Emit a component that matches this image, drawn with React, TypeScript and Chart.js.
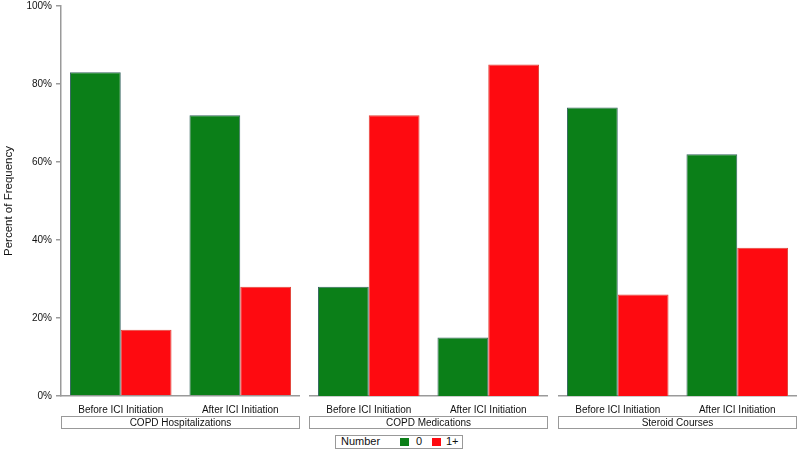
import React, { useEffect, useRef } from 'react';
import { Chart, registerables } from 'chart.js';
Chart.register(...registerables);

const periods = ['Before ICI Initiation', 'After ICI Initiation'];
const panelNames = ['COPD Hospitalizations', 'COPD Medications', 'Steroid Courses'];
const zeroValues = [
  [83, 72],
  [28, 15],
  [74, 62],
];
const onePlusValues = [
  [17, 28],
  [72, 85],
  [26, 38],
];
const seriesNames = ['0', '1+'];
const yTickValues = [0, 20, 40, 60, 80, 100];

const FONT = '"Liberation Sans", Arial, sans-serif';
const GREEN = '#0b7f18';
const RED = '#fe0a10';
const AXIS = '#9a9a9a';

const panelLefts = [0, 309, 558];
const panelWidths = [300, 239, 239];
const plotLeft0 = 61;
const CANVAS_TOP = -4;
const CANVAS_H = 424;

function Panel({ index }: { index: number }) {
  const ref = useRef<HTMLCanvasElement | null>(null);
  useEffect(() => {
    if (!ref.current) return;
    const showY = index === 0;
    const chart = new Chart(ref.current, {
      type: 'bar',
      data: {
        labels: periods,
        datasets: [
          {
            label: seriesNames[0],
            data: zeroValues[index],
            backgroundColor: GREEN,
            borderColor: '#35655f',
            borderWidth: 1,
            barPercentage: 1,
            categoryPercentage: 0.85,
          },
          {
            label: seriesNames[1],
            data: onePlusValues[index],
            backgroundColor: RED,
            borderColor: '#e0453a',
            borderWidth: 1,
            barPercentage: 1,
            categoryPercentage: 0.85,
          },
        ],
      },
      options: {
        animation: false,
        responsive: false,
        maintainAspectRatio: false,
        layout: { padding: { top: showY ? 1 : 10, left: 0, right: 0, bottom: 0 } },
        plugins: { legend: { display: false }, tooltip: { enabled: false } },
        scales: {
          x: {
            type: 'category',
            ticks: {
              font: { size: 10, family: FONT },
              color: '#111',
              padding: 8,
              maxRotation: 0,
              autoSkip: false,
            },
            grid: { display: true, drawOnChartArea: false, drawTicks: false, color: AXIS },
            border: { display: true, color: AXIS, width: 1.5 },
            afterFit: (s: any) => {
              s.height = 24;
            },
          },
          y: {
            display: showY,
            min: 0,
            max: 100,
            afterBuildTicks: (s: any) => {
              s.ticks = yTickValues.map((v) => ({ value: v }));
            },
            ticks: {
              callback: (v: any) => v + '%',
              font: { size: 10, family: FONT },
              color: '#111',
              padding: 4,
            },
            grid: {
              display: true,
              drawOnChartArea: false,
              drawTicks: true,
              tickLength: 5,
              color: AXIS,
              lineWidth: 1.5,
            },
            border: { display: true, color: AXIS, width: 1.5 },
            title: {
              display: true,
              text: 'Percent of Frequency',
              font: { size: 11.5, family: FONT },
              color: '#111',
              padding: { top: 2, bottom: 0 },
            },
            afterFit: (s: any) => {
              s.width = showY ? plotLeft0 : 0;
            },
          },
        },
      },
    });
    return () => chart.destroy();
  }, [index]);
  return (
    <div style={{ position: 'absolute', left: panelLefts[index], top: CANVAS_TOP, width: panelWidths[index], height: CANVAS_H }}>
      <canvas ref={ref} width={panelWidths[index]} height={CANVAS_H} style={{ display: 'block' }} />
    </div>
  );
}

export default function App() {
  const stripLefts = [61, 309, 558];
  const stripWidths = [239, 239, 239];
  return (
    <div style={{ position: 'absolute', left: 0, top: 0, width: 800, height: 451, background: '#fff', fontFamily: FONT, overflow: 'hidden' }}>
      {[0, 1, 2].map((i) => (
        <Panel key={i} index={i} />
      ))}
      {panelNames.map((name, i) => (
        <div
          key={name}
          style={{
            position: 'absolute',
            left: stripLefts[i],
            top: 416,
            width: stripWidths[i],
            height: 13,
            boxSizing: 'border-box',
            border: '1px solid #999',
            fontSize: 10,
            lineHeight: '11px',
            textAlign: 'center',
            color: '#111',
          }}
        >
          {name}
        </div>
      ))}
      <div
        style={{
          position: 'absolute',
          left: 335,
          top: 435,
          width: 128,
          height: 14,
          boxSizing: 'border-box',
          border: '1px solid #999',
          fontSize: 11,
          color: '#111',
        }}
      >
        <span style={{ position: 'absolute', left: 5, top: -1, lineHeight: '13px' }}>Number</span>
        <span style={{ position: 'absolute', left: 64, top: 2, width: 9, height: 8, background: GREEN }} />
        <span style={{ position: 'absolute', left: 80, top: -1, lineHeight: '13px' }}>{seriesNames[0]}</span>
        <span style={{ position: 'absolute', left: 96, top: 2, width: 9, height: 8, background: RED }} />
        <span style={{ position: 'absolute', left: 110, top: -1, lineHeight: '13px' }}>{seriesNames[1]}</span>
      </div>
    </div>
  );
}
